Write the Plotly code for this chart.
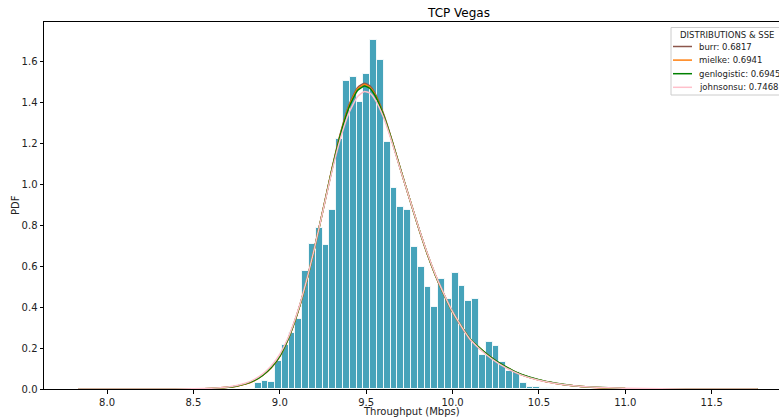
import plotly.graph_objects as go

# ---- histogram data (density per bin) ----
bin_start = 7.832          # left edge of bin 0
bin_width = 0.03934        # width of each bin
first_bin = 26             # index of the first non-empty bin
density = [0.028, 0.039, 0.034, 0.137, 0.214, 0.272, 0.342, 0.576, 0.709, 0.786,
           0.703, 0.876, 1.223, 1.508, 1.525, 1.403, 1.541, 1.706, 1.608, 1.208,
           0.982, 0.890, 0.874, 0.695, 0.595, 0.497, 0.400, 0.538, 0.440, 0.567,
           0.506, 0.429, 0.440, 0.166, 0.228, 0.212, 0.130, 0.087, 0.085, 0.027,
           0.010, 0.010, 0.004, 0.004]

# ---- fitted PDF curves ----
curve_x = [7.832, 8.3, 8.5, 8.6, 8.7, 8.75, 8.8, 8.85, 8.9, 8.95, 9.0, 9.05, 9.1, 9.15,
           9.2, 9.25, 9.3, 9.35, 9.4, 9.45, 9.49, 9.52, 9.55, 9.6, 9.65, 9.7, 9.75, 9.8,
           9.85, 9.9, 9.95, 10.0, 10.05, 10.1, 10.15, 10.2, 10.25, 10.3, 10.35, 10.4,
           10.5, 10.6, 10.7, 10.8, 11.0, 11.2, 11.5, 11.766]
burr = [0.0, 0.0001, 0.0008, 0.0026, 0.0082, 0.0139, 0.024, 0.040, 0.066, 0.104, 0.160,
        0.247, 0.364, 0.511, 0.685, 0.876, 1.070, 1.247, 1.388, 1.474, 1.496, 1.484,
        1.448, 1.347, 1.215, 1.072, 0.934, 0.797, 0.670, 0.558, 0.462, 0.376, 0.308,
        0.246, 0.205, 0.169, 0.138, 0.112, 0.089, 0.070, 0.044, 0.027, 0.0154, 0.0091,
        0.0025, 0.0007, 0.0001, 0.0]
mielke = [0.0, 0.0001, 0.0008, 0.0026, 0.0082, 0.0139, 0.024, 0.040, 0.066, 0.104, 0.160,
          0.247, 0.364, 0.511, 0.685, 0.875, 1.068, 1.243, 1.382, 1.467, 1.489, 1.477,
          1.442, 1.343, 1.213, 1.071, 0.934, 0.797, 0.670, 0.558, 0.462, 0.376, 0.308,
          0.246, 0.205, 0.169, 0.138, 0.112, 0.089, 0.070, 0.044, 0.027, 0.0154, 0.0091,
          0.0025, 0.0007, 0.0001, 0.0]
genlogistic = [0.0, 0.0002, 0.001, 0.003, 0.009, 0.015, 0.025, 0.041, 0.067, 0.105, 0.161,
               0.248, 0.365, 0.512, 0.685, 0.874, 1.065, 1.240, 1.376, 1.460, 1.482, 1.471,
               1.437, 1.340, 1.212, 1.071, 0.934, 0.798, 0.671, 0.559, 0.463, 0.377, 0.309,
               0.247, 0.206, 0.170, 0.139, 0.113, 0.090, 0.071, 0.045, 0.028, 0.016, 0.0095,
               0.0027, 0.0008, 0.0001, 0.0]
johnsonsu = [0.0, 0.0002, 0.0012, 0.0035, 0.010, 0.017, 0.028, 0.046, 0.073, 0.112, 0.170,
             0.254, 0.370, 0.515, 0.686, 0.872, 1.058, 1.222, 1.350, 1.430, 1.455, 1.448,
             1.418, 1.330, 1.205, 1.068, 0.934, 0.800, 0.674, 0.562, 0.465, 0.378, 0.308,
             0.245, 0.202, 0.165, 0.134, 0.108, 0.086, 0.068, 0.043, 0.027, 0.016, 0.0098,
             0.0033, 0.0011, 0.0002, 0.0]

names = ["burr: 0.6817", "mielke: 0.6941", "genlogistic: 0.6945", "johnsonsu: 0.7468"]
series = [burr, mielke, genlogistic, johnsonsu]
colors = ["#8c564b", "#ff7f0e", "green", "pink"]
legend_title = "DISTRIBUTIONS & SSE"

bar_x = [bin_start + (first_bin + i + 0.5) * bin_width for i in range(len(density))]

fig = go.Figure()
fig.add_trace(go.Bar(x=bar_x, y=density, width=bin_width, showlegend=False,
                     marker=dict(color="#46a3ba", line=dict(color="rgba(255,255,255,0.85)", width=1))))
for nm, ys, c in zip(names, series, colors):
    fig.add_trace(go.Scatter(x=curve_x, y=ys, mode="lines", name=nm, showlegend=False,
                             line=dict(color=c, width=1.5, shape="spline", smoothing=0.5)))

L, T, B = 44, 22, 31
W, H = 779, 420
PW, PH = W - L, H - B - T


def px(x):
    return (x - L) / PW


def py(y):
    return (H - B - y) / PH


LF = 8.5
annotations = [
    dict(text="TCP Vegas", xref="paper", yref="paper", x=px(458), y=py(13),
         xanchor="center", yanchor="middle", showarrow=False, font=dict(size=12, color="black")),
    dict(text="PDF", xref="paper", yref="paper", x=px(15), y=py(205), textangle=-90,
         xanchor="center", yanchor="middle", showarrow=False, font=dict(size=10, color="#222")),
    dict(text="Throughput (Mbps)", xref="paper", yref="paper", x=px(411), y=py(411),
         xanchor="center", yanchor="middle", showarrow=False, font=dict(size=10, color="#222")),
    dict(text=legend_title, xref="paper", yref="paper", x=px(727), y=py(35),
         xanchor="center", yanchor="middle", showarrow=False, font=dict(size=LF, color="#222")),
]
shapes = [dict(type="rect", xref="paper", yref="paper", x0=px(671), x1=px(830), y0=py(27.5), y1=py(95),
               line=dict(color="#cccccc", width=1), fillcolor="rgba(255,255,255,0.85)", layer="above")]
for i, (nm, c) in enumerate(zip(names, colors)):
    yy = 46.5 + i * 13.6
    shapes.append(dict(type="line", xref="paper", yref="paper", x0=px(673), x1=px(692), y0=py(yy), y1=py(yy),
                       line=dict(color=c, width=1.5), layer="above"))
    annotations.append(dict(text=nm, xref="paper", yref="paper", x=px(697), y=py(yy),
                            xanchor="left", yanchor="middle", showarrow=False,
                            font=dict(size=LF, color="#222")))

fig.update_layout(
    width=W, height=H,
    margin=dict(l=L, r=0, t=T, b=B, autoexpand=False),
    paper_bgcolor="white", plot_bgcolor="white",
    font=dict(family="DejaVu Sans", size=10, color="#222"),
    bargap=0,
    showlegend=False,
    annotations=annotations,
    shapes=shapes,
)
fig.update_xaxes(range=[7.635, 11.89], tickvals=[8.0, 8.5, 9.0, 9.5, 10.0, 10.5, 11.0, 11.5],
                 tickformat=".1f", showline=True, linecolor="black", linewidth=1, mirror=True,
                 ticks="outside", ticklen=3.5, tickcolor="black", showgrid=False, zeroline=False)
fig.update_yaxes(range=[0, 1.795], tickvals=[0, 0.2, 0.4, 0.6, 0.8, 1.0, 1.2, 1.4, 1.6],
                 tickformat=".1f", showline=True, linecolor="black", linewidth=1,
                 ticks="outside", ticklen=3.5, tickcolor="black", showgrid=False, zeroline=False)

fig.write_html("out.html")
